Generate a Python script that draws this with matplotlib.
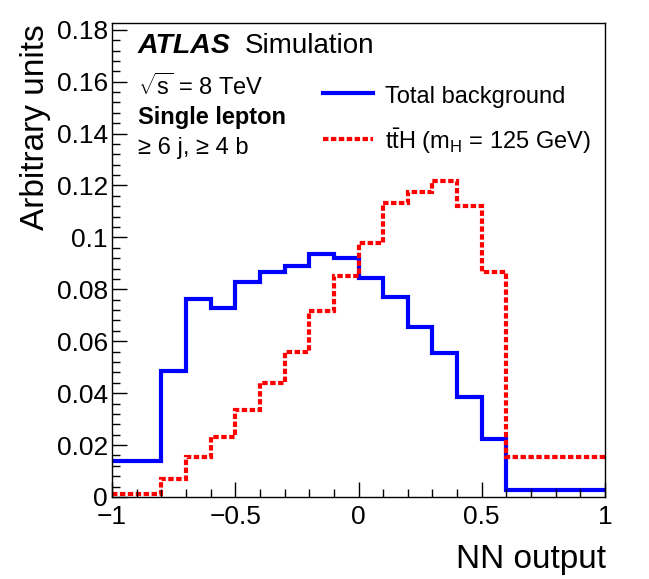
import matplotlib
matplotlib.use("Agg")
import matplotlib.pyplot as plt
from matplotlib.ticker import MultipleLocator, FuncFormatter

plt.rcParams['font.family'] = ['Liberation Sans', 'DejaVu Sans']
plt.rcParams['mathtext.fontset'] = 'custom'
plt.rcParams['mathtext.rm'] = 'Liberation Sans'
plt.rcParams['mathtext.it'] = 'Liberation Sans:italic'
plt.rcParams['mathtext.bf'] = 'Liberation Sans:bold'

# Bin edges of NN output
bin_edges = [-1.0, -0.8, -0.7, -0.6, -0.5, -0.4, -0.3, -0.2, -0.1, 0.0,
             0.1, 0.2, 0.3, 0.4, 0.5, 0.6, 1.0]

total_background = [0.0139, 0.0486, 0.0762, 0.0730, 0.0828, 0.0865, 0.0891, 0.0936,
                    0.0920, 0.0843, 0.0772, 0.0653, 0.0555, 0.0387, 0.0225, 0.0028]

tth_signal = [0.0010, 0.0069, 0.0153, 0.0232, 0.0334, 0.0441, 0.0559, 0.0717,
              0.0852, 0.0980, 0.1131, 0.1176, 0.1217, 0.1122, 0.0865, 0.0154]

W, H = 649, 579
fig = plt.figure(figsize=(W / 100, H / 100), dpi=100)
ax = fig.add_axes([112 / W, 1 - 497 / H, (605 - 112) / W, (497 - 23) / H])

ax.stairs(total_background, bin_edges, baseline=None, color=(0, 0, 1), lw=3.0,
          label='Total background')
ax.stairs(tth_signal, bin_edges, baseline=None, color=(1, 0, 0), lw=3.0,
          linestyle=(0, (1.3, 0.6)), label='tth')

ax.set_xlim(-1, 1)
ax.set_ylim(0, 0.1826)

ax.xaxis.set_major_locator(MultipleLocator(0.5))
ax.xaxis.set_minor_locator(MultipleLocator(0.1))
ax.yaxis.set_major_locator(MultipleLocator(0.02))
ax.yaxis.set_minor_locator(MultipleLocator(0.004))

def fmt(v, pos):
    s = f"{round(v, 4):g}"
    return s.replace('-', '\u2212')

ax.xaxis.set_major_formatter(FuncFormatter(fmt))
ax.yaxis.set_major_formatter(FuncFormatter(fmt))

ax.tick_params(which='both', direction='in', top=False, right=False, width=1.0,
               labelsize=19)
ax.tick_params(which='major', length=11)
ax.tick_params(which='minor', length=5.5)
ax.tick_params(axis='x', which='major', pad=6)
ax.tick_params(axis='y', which='major', pad=3)
for sp in ax.spines.values():
    sp.set_linewidth(1.0)

fig.text(606 / W, 1 - 568 / H, 'NN output', ha='right', va='baseline', fontsize=24)
fig.text(44 / W, 1 - 24 / H, 'Arbitrary units', rotation=90, rotation_mode='anchor',
         ha='right', va='baseline', fontsize=24)

fig.text(138 / W, 1 - 53 / H, 'ATLAS', fontsize=20.5, fontweight='bold', fontstyle='italic',
         ha='left', va='baseline')
fig.text(245 / W, 1 - 53 / H, 'Simulation', fontsize=20, ha='left', va='baseline')
fig.text(138 / W, 1 - 95 / H, r'$\sqrt{\mathrm{s}}$ = 8 TeV', fontsize=17, ha='left', va='baseline')
fig.text(138 / W, 1 - 124 / H, 'Single lepton', fontsize=17, fontweight='bold', ha='left', va='baseline')
fig.text(138 / W, 1 - 154 / H, '\u2265 6 j, \u2265 4 b', fontsize=17, ha='left', va='baseline')

# Legend (manual, ROOT style)
fig.add_artist(plt.Line2D([323 / W, 373 / W], [1 - 93 / H, 1 - 93 / H], color=(0, 0, 1), lw=3.0))
fig.add_artist(plt.Line2D([323 / W, 373 / W], [1 - 139 / H, 1 - 139 / H], color=(1, 0, 0), lw=3.0,
                          linestyle=(0, (1.3, 0.6))))
fig.text(385 / W, 1 - 103 / H, 'Total background', fontsize=17, ha='left', va='baseline')
fig.text(385 / W, 1 - 149 / H, r't$\bar{\mathrm{t}}$H (m$_{\mathrm{H}}$ = 125 GeV)', fontsize=17,
         ha='left', va='baseline')

fig.savefig('out.png', dpi=100)
